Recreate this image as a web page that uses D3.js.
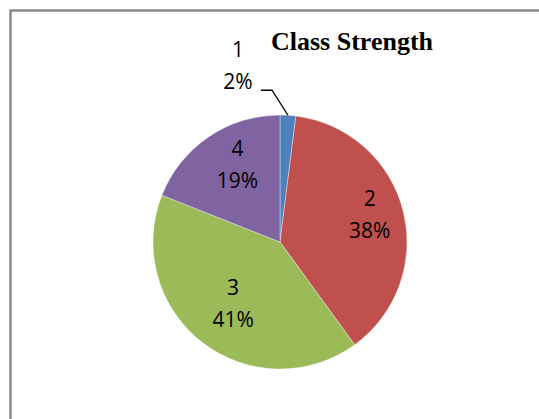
<!DOCTYPE html>
<html>
<head>
<meta charset="utf-8">
<script src="https://cdn.jsdelivr.net/npm/d3@7"></script>
<style>
  html, body { margin: 0; padding: 0; background: #fff; }
  svg { display: block; }
</style>
</head>
<body>
<svg id="chart" width="539" height="419"></svg>
<script>
// ---- data ----
const categories = ["1", "2", "3", "4"];
const values = [2, 38, 41, 19];
const percentLabels = ["2%", "38%", "41%", "19%"];
const colors = ["#4F81BD", "#C0504D", "#9BBB59", "#8064A2"];
const title = "Class Strength";

// ---- layout ----
const W = 539, H = 419;
const cx = 280, cy = 242, R = 127;

const svg = d3.select("#chart");

// chart frame
svg.append("rect")
  .attr("x", 10.5).attr("y", 10.5)
  .attr("width", W + 20).attr("height", H + 20)
  .attr("fill", "#fff")
  .attr("stroke", "#8a8a8a")
  .attr("stroke-width", 2.5);

// title
svg.append("text")
  .attr("x", 352).attr("y", 50)
  .attr("text-anchor", "middle")
  .attr("font-family", "'Liberation Serif', 'Times New Roman', serif")
  .attr("font-weight", "bold")
  .attr("font-size", 26)
  .attr("fill", "#000")
  .text(title);

const data = categories.map((c, i) => ({ cat: c, value: values[i], pct: percentLabels[i], color: colors[i] }));

const pie = d3.pie().sort(null).value(d => d.value);
const arcs = pie(data);
const arc = d3.arc().innerRadius(0).outerRadius(R);

const g = svg.append("g").attr("transform", `translate(${cx},${cy})`);

g.selectAll("path.slice")
  .data(arcs)
  .enter().append("path")
  .attr("class", "slice")
  .attr("d", arc)
  .attr("fill", d => d.data.color)
  .attr("stroke", "rgba(255,255,255,0.6)")
  .attr("stroke-width", 0.6);

// inside labels (slices 2..4)
const labelFont = "'Open Sans', 'Liberation Sans', sans-serif";
const labelSize = 21;
const labelArc = d3.arc().innerRadius(R * 0.68).outerRadius(R * 0.68);
const inside = arcs.filter(d => d.data.value >= 5);
const insideG = g.selectAll("g.lbl")
  .data(inside)
  .enter().append("g")
  .attr("class", "lbl")
  .attr("transform", d => {
    const [x, y] = labelArc.centroid(d);
    return `translate(${x + 6},${y + 1})`;
  });
insideG.append("text")
  .attr("text-anchor", "middle")
  .attr("y", -16)
  .attr("font-family", labelFont)
  .attr("font-size", labelSize)
  .attr("fill", "#000")
  .text(d => d.data.cat);
insideG.append("text")
  .attr("text-anchor", "middle")
  .attr("y", 16)
  .attr("font-family", labelFont)
  .attr("font-size", labelSize)
  .attr("fill", "#000")
  .text(d => d.data.pct);

// outside label with leader line (small slice)
const small = arcs.filter(d => d.data.value < 5);
small.forEach(d => {
  const mid = (d.startAngle + d.endAngle) / 2;
  const p0 = [Math.sin(mid) * R, -Math.cos(mid) * R];
  const elbow = [p0[0] - 16, p0[1] - 25];
  const end = [elbow[0] - 11, elbow[1]];
  g.append("polyline")
    .attr("points", [p0, elbow, end].map(p => p.join(",")).join(" "))
    .attr("fill", "none")
    .attr("stroke", "#000")
    .attr("stroke-width", 1.3);
  const lx = end[0] - 23, ly = end[1];
  g.append("text")
    .attr("x", lx).attr("y", ly - 33)
    .attr("text-anchor", "middle")
    .attr("font-family", labelFont)
    .attr("font-size", labelSize)
    .attr("fill", "#000")
    .text(d.data.cat);
  g.append("text")
    .attr("x", lx).attr("y", ly - 1)
    .attr("text-anchor", "middle")
    .attr("font-family", labelFont)
    .attr("font-size", labelSize)
    .attr("fill", "#000")
    .text(d.data.pct);
});
</script>
</body>
</html>
